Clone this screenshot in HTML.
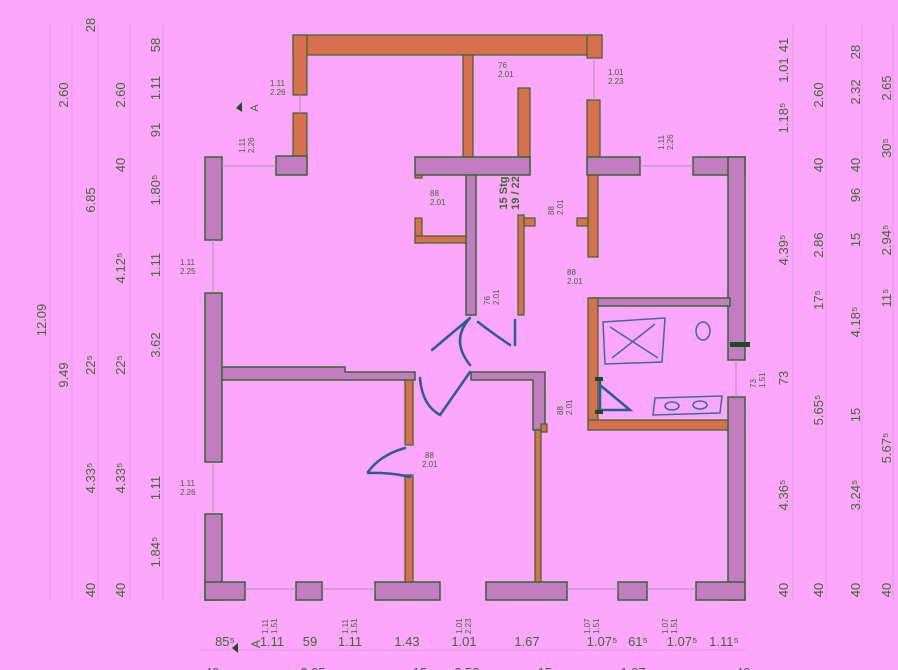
<!DOCTYPE html>
<html><head><meta charset="utf-8"><style>
html,body{margin:0;padding:0;background:#fca6fc;}
svg{display:block}
text{font-family:"Liberation Sans",sans-serif;fill:#3d6b2a;}
.d{font-size:13px}
.s{font-size:8px;fill:#8a7a8a}
.w{fill:#c47cc0;stroke:#2f6a2c;stroke-width:1.5}
.o{fill:#d8704e;stroke:#2f6a2c;stroke-width:1.2}
.b{fill:none;stroke:#2a5a9a;stroke-width:2.5;stroke-linecap:round}
.g{stroke:#e49ae4;stroke-width:1;fill:none}
</style></head><body>
<svg width="898" height="670" viewBox="0 0 898 670" xmlns="http://www.w3.org/2000/svg">
<g class="g">
<line x1="50" y1="25" x2="50" y2="600"/><line x1="72" y1="25" x2="72" y2="600"/><line x1="98" y1="25" x2="98" y2="600"/><line x1="130" y1="25" x2="130" y2="600"/><line x1="163" y1="25" x2="163" y2="600"/>
<line x1="793" y1="25" x2="793" y2="600"/><line x1="826" y1="25" x2="826" y2="600"/><line x1="862" y1="25" x2="862" y2="600"/><line x1="893" y1="25" x2="893" y2="600"/>
<line x1="200" y1="650" x2="745" y2="650"/>
</g>
<rect class="o" x="293" y="35" width="309" height="20"/>
<rect class="o" x="293" y="35" width="14" height="60"/>
<rect class="o" x="587" y="35" width="15" height="23"/>
<rect class="o" x="293" y="113" width="14" height="60"/>
<rect class="w" x="276" y="156" width="31" height="19"/>
<rect class="o" x="463" y="55" width="10" height="105"/>
<rect class="o" x="518" y="88" width="12" height="72"/>
<rect class="w" x="415" y="157" width="115" height="18"/>
<rect class="o" x="415" y="175" width="7" height="3"/>
<rect class="w" x="466" y="175" width="10" height="140"/>
<rect class="o" x="415" y="218" width="7" height="25"/>
<rect class="o" x="415" y="236" width="51" height="7"/>
<rect class="o" x="518" y="215" width="6" height="100"/>
<rect class="o" x="524" y="218" width="11" height="8"/>
<rect class="o" x="587" y="100" width="13" height="60"/>
<rect class="o" x="588" y="157" width="10" height="100"/>
<rect class="w" x="587" y="157" width="53" height="18"/>
<rect class="o" x="577" y="218" width="11" height="8"/>
<rect class="w" x="693" y="157" width="52" height="18"/>
<rect class="w" x="728" y="157" width="17" height="203"/>
<rect class="w" x="590" y="298" width="140" height="8"/>
<rect class="o" x="588" y="298" width="10" height="132"/>
<rect class="o" x="588" y="420" width="142" height="10"/>
<rect class="w" x="728" y="397" width="17" height="203"/>
<rect class="w" x="696" y="582" width="49" height="18"/>
<rect class="w" x="205" y="157" width="17" height="83"/>
<rect class="w" x="205" y="293" width="17" height="169"/>
<path class="w" d="M222 367 H345 V372 H415 V380 H222 Z"/>
<rect class="w" x="205" y="514" width="17" height="86"/>
<rect class="w" x="205" y="582" width="40" height="18"/>
<rect class="w" x="296" y="582" width="26" height="18"/>
<rect class="w" x="375" y="582" width="65" height="18"/>
<rect class="w" x="486" y="582" width="81" height="18"/>
<rect class="w" x="618" y="582" width="29" height="18"/>
<rect class="o" x="405" y="380" width="8" height="65"/>
<rect class="o" x="405" y="475" width="8" height="107"/>
<path class="w" d="M471 372 H545 V430 H533 V380 H471 Z"/>
<rect class="o" x="535" y="430" width="6" height="152"/>
<rect class="o" x="541" y="424" width="6" height="8"/>
<g stroke="#b090b0" stroke-width="1">
<line x1="245" y1="589" x2="296" y2="589"/><line x1="322" y1="589" x2="375" y2="589"/><line x1="567" y1="589" x2="618" y2="589"/><line x1="647" y1="589" x2="696" y2="589"/>
<line x1="213" y1="240" x2="213" y2="293"/><line x1="213" y1="462" x2="213" y2="514"/><line x1="300" y1="95" x2="300" y2="113"/><line x1="222" y1="166" x2="276" y2="166"/><line x1="640" y1="166" x2="693" y2="166"/><line x1="736" y1="360" x2="736" y2="397"/><line x1="594" y1="58" x2="594" y2="100"/>
</g>
<path class="b" d="M470 318 L432 350 M470 318 Q450 340 470 365"/>
<path class="b" d="M478 322 Q495 335 510 345 M515 320 L515 345"/>
<path class="b" d="M420 378 Q422 405 440 415 L470 372"/>
<path class="b" d="M405 448 Q380 455 368 472 M368 473 Q390 472 410 477"/>
<path class="b" d="M600 385 L630 410 L598 410 M600 378 L600 412"/>
<rect x="595" y="377" width="8" height="4" fill="#1d4d1d"/><rect x="595" y="410" width="8" height="4" fill="#1d4d1d"/>
<rect x="730" y="342" width="20" height="5" fill="#1d4d1d"/>
<path d="M603 322 L665 318 L662 362 L605 364 Z M610 327 L658 358 M655 324 L612 358" fill="none" stroke="#3a6aa0" stroke-width="1.5"/>
<ellipse cx="703" cy="331" rx="7" ry="9" fill="none" stroke="#3a6aa0" stroke-width="1.5"/>
<path d="M655 398 L722 396 L720 413 L653 415 Z" fill="none" stroke="#3a6aa0" stroke-width="1.5"/>
<ellipse cx="672" cy="406" rx="7" ry="4" fill="none" stroke="#3a6aa0" stroke-width="1.5"/><ellipse cx="700" cy="405" rx="7" ry="4" fill="none" stroke="#3a6aa0" stroke-width="1.5"/>
<path d="M236 108 L242 102 L242 112 Z" fill="#1d4d1d"/>
<text x="258" y="108" font-size="11" transform="rotate(-90 258 108)" text-anchor="middle">A</text>
<path d="M232 648 L238 643 L238 653 Z" fill="#1d4d1d"/>
<text x="256" y="652" font-size="12" transform="rotate(-90 256 648)">A</text>
<text x="507" y="193" font-size="11" font-weight="bold" transform="rotate(-90 507 193)" text-anchor="middle">15 Stg</text>
<text x="519" y="193" font-size="11" font-weight="bold" transform="rotate(-90 519 193)" text-anchor="middle">19 / 22</text>
<g class="s">
<text x="270" y="86">1.11</text><text x="270" y="95">2.26</text>
<text x="498" y="68">76</text><text x="498" y="77">2.01</text>
<text x="608" y="75">1.01</text><text x="608" y="84">2.23</text>
<text x="430" y="196">88</text><text x="430" y="205">2.01</text>
<text x="567" y="275">88</text><text x="567" y="284">2.01</text>
<text x="425" y="458">88</text><text x="422" y="467">2.01</text>
<g transform="rotate(-90 245 143)"><text x="235" y="143">1.11</text><text x="235" y="152">2.26</text></g>
<g transform="rotate(-90 664 140)"><text x="654" y="140">1.11</text><text x="654" y="149">2.26</text></g>
<g transform="rotate(-90 554 205)"><text x="544" y="205">88</text><text x="544" y="214">2.01</text></g>
<g transform="rotate(-90 490 295)"><text x="480" y="295">76</text><text x="480" y="304">2.01</text></g>
<g transform="rotate(-90 563 405)"><text x="553" y="405">88</text><text x="553" y="414">2.01</text></g>
<g transform="rotate(-90 760 378)"><text x="750" y="374">73</text><text x="750" y="383">1.51</text></g>
<text x="180" y="265">1.11</text><text x="180" y="274">2.25</text>
<text x="180" y="486">1.11</text><text x="180" y="495">2.26</text>
<g transform="rotate(-90 268 622)"><text x="256" y="622">1.11</text><text x="256" y="631">1.51</text></g>
<g transform="rotate(-90 348 622)"><text x="336" y="622">1.11</text><text x="336" y="631">1.51</text></g>
<g transform="rotate(-90 462 622)"><text x="450" y="622">1.01</text><text x="450" y="631">2.23</text></g>
<g transform="rotate(-90 590 622)"><text x="578" y="622">1.07</text><text x="578" y="631">1.51</text></g>
<g transform="rotate(-90 668 622)"><text x="656" y="622">1.07</text><text x="656" y="631">1.51</text></g>
</g>
<g class="d" text-anchor="middle">
<text transform="translate(46,320) rotate(-90)">12.09</text>
<text transform="translate(68,95) rotate(-90)">2.60</text>
<text transform="translate(68,375) rotate(-90)">9.49</text>
<text transform="translate(95,25) rotate(-90)">28</text>
<text transform="translate(95,200) rotate(-90)">6.85</text>
<text transform="translate(95,365) rotate(-90)">22⁵</text>
<text transform="translate(95,478) rotate(-90)">4.33⁵</text>
<text transform="translate(95,590) rotate(-90)">40</text>
<text transform="translate(125,95) rotate(-90)">2.60</text>
<text transform="translate(125,165) rotate(-90)">40</text>
<text transform="translate(125,268) rotate(-90)">4.12⁵</text>
<text transform="translate(125,365) rotate(-90)">22⁵</text>
<text transform="translate(125,478) rotate(-90)">4.33⁵</text>
<text transform="translate(125,590) rotate(-90)">40</text>
<text transform="translate(160,45) rotate(-90)">58</text>
<text transform="translate(160,88) rotate(-90)">1.11</text>
<text transform="translate(160,130) rotate(-90)">91</text>
<text transform="translate(160,190) rotate(-90)">1.80⁵</text>
<text transform="translate(160,265) rotate(-90)">1.11</text>
<text transform="translate(160,345) rotate(-90)">3.62</text>
<text transform="translate(160,488) rotate(-90)">1.11</text>
<text transform="translate(160,552) rotate(-90)">1.84⁵</text>
<text transform="translate(788,45) rotate(-90)">41</text>
<text transform="translate(788,70) rotate(-90)">1.01</text>
<text transform="translate(788,118) rotate(-90)">1.18⁵</text>
<text transform="translate(788,250) rotate(-90)">4.39⁵</text>
<text transform="translate(788,378) rotate(-90)">73</text>
<text transform="translate(788,495) rotate(-90)">4.36⁵</text>
<text transform="translate(788,590) rotate(-90)">40</text>
<text transform="translate(823,95) rotate(-90)">2.60</text>
<text transform="translate(823,165) rotate(-90)">40</text>
<text transform="translate(823,245) rotate(-90)">2.86</text>
<text transform="translate(823,300) rotate(-90)">17⁵</text>
<text transform="translate(823,410) rotate(-90)">5.65⁵</text>
<text transform="translate(823,590) rotate(-90)">40</text>
<text transform="translate(860,52) rotate(-90)">28</text>
<text transform="translate(860,92) rotate(-90)">2.32</text>
<text transform="translate(860,165) rotate(-90)">40</text>
<text transform="translate(860,195) rotate(-90)">96</text>
<text transform="translate(860,240) rotate(-90)">15</text>
<text transform="translate(860,322) rotate(-90)">4.18⁵</text>
<text transform="translate(860,415) rotate(-90)">15</text>
<text transform="translate(860,495) rotate(-90)">3.24⁵</text>
<text transform="translate(860,590) rotate(-90)">40</text>
<text transform="translate(891,88) rotate(-90)">2.65</text>
<text transform="translate(891,148) rotate(-90)">30⁵</text>
<text transform="translate(891,240) rotate(-90)">2.94⁵</text>
<text transform="translate(891,298) rotate(-90)">11⁵</text>
<text transform="translate(891,448) rotate(-90)">5.67⁵</text>
<text transform="translate(891,590) rotate(-90)">40</text>
</g>
<g class="d" text-anchor="middle">
<text x="225" y="646">85⁵</text><text x="272" y="646">1.11</text><text x="310" y="646">59</text><text x="350" y="646">1.11</text><text x="407" y="646">1.43</text><text x="464" y="646">1.01</text><text x="527" y="646">1.67</text><text x="602" y="646">1.07⁵</text><text x="638" y="646">61⁵</text><text x="682" y="646">1.07⁵</text><text x="724" y="646">1.11⁵</text>
<text x="212" y="677">40</text><text x="313" y="677">2.05</text><text x="420" y="677">15</text><text x="467" y="677">2.52</text><text x="545" y="677">15</text><text x="633" y="677">1.07</text><text x="743" y="677">40</text>
</g>
</svg>
</body></html>
